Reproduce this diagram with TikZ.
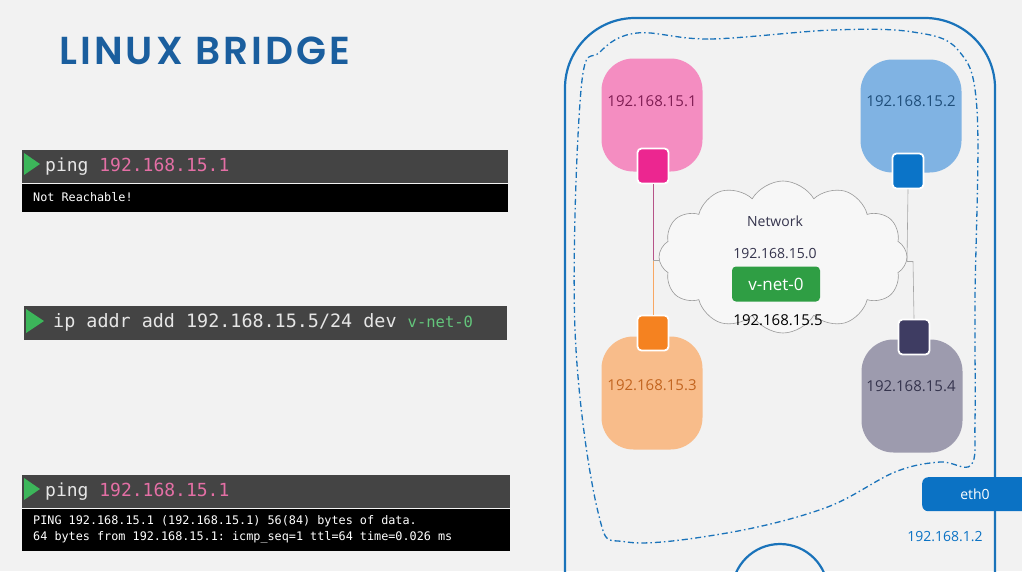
\documentclass[tikz,border=0pt]{standalone}
\usepackage{fontspec}
\setmainfont{Open Sans}
\setmonofont{DejaVu Sans Mono}
\newfontfamily\titlefont{Poppins SemiBold}[LetterSpace=8]
\usepackage{tikz}
\usetikzlibrary{positioning}
\usetikzlibrary{shapes.symbols}

\definecolor{bgcol}{HTML}{F2F2F2}
\definecolor{titleblue}{HTML}{1A5E9E}
\definecolor{termdark}{HTML}{444444}
\definecolor{termtext}{HTML}{E6E6E6}
\definecolor{termpink}{HTML}{E46FA5}
\definecolor{termgreen}{HTML}{3CB65A}
\definecolor{vnetgreen}{HTML}{2F9E44}
\definecolor{hostline}{HTML}{1A73BA}
\definecolor{pinkhost}{HTML}{F48DC1}
\definecolor{pinkport}{HTML}{EC2690}
\definecolor{pinklabel}{HTML}{7F1D53}
\definecolor{bluehost}{HTML}{80B3E3}
\definecolor{blueport}{HTML}{0B74C8}
\definecolor{bluelabel}{HTML}{1F4E7A}
\definecolor{orangehost}{HTML}{F8BC8A}
\definecolor{orangeport}{HTML}{F58220}
\definecolor{orangelabel}{HTML}{C2641F}
\definecolor{grayhost}{HTML}{9D9BAE}
\definecolor{grayport}{HTML}{3E3C62}
\definecolor{graylabel}{HTML}{35344D}
\definecolor{ethblue}{HTML}{0B72C4}

\begin{document}
\begin{tikzpicture}[x=1pt,y=-1pt,
                    hostbox/.style={rectangle, rounded corners=32pt, minimum width=101pt, minimum height=113pt, inner sep=0pt},
                    hostlabel/.style={font=\fontsize{15}{16}\selectfont, inner sep=0pt},
                    portbox/.style={rectangle, rounded corners=4pt, draw=white, line width=1.8pt, minimum width=31pt, minimum height=35pt, inner sep=0pt},
                    termbar/.style={rectangle, fill=termdark, minimum height=33pt, inner sep=0pt, anchor=north west},
                    termout/.style={rectangle, fill=black, inner sep=0pt, anchor=north west},
                    cmdtext/.style={font=\ttfamily\fontsize{18}{20}\selectfont, text=termtext, anchor=west, inner sep=0pt},
                    outtext/.style={font=\ttfamily\fontsize{11.8}{13}\selectfont, text=white, anchor=west, inner sep=0pt},
                    play/.style={fill=termgreen},
                    netlabel/.style={font=\fontsize{14}{15}\selectfont, inner sep=0pt},
                    joinline/.style={line width=0.6pt},
                   ]
                    %Background
                    \useasboundingbox (0,0) rectangle (1022,571);
                    \fill[bgcol] (0,0) rectangle (1022,571);

                    %Title
                    \node[anchor=west, text=titleblue, font=\titlefont\fontsize{39}{42}\selectfont, inner sep=0pt] (title) at (59,51) {LINUX BRIDGE};

                    %Terminals
                    \node[termbar, minimum width=486pt] (t1bar) at (22,150) {};
                    \node[termout, minimum width=486pt, minimum height=28pt] (t1out) at (t1bar.south west) {};
                    \fill[play] (24,153) -- (40,164) -- (24,175) -- cycle;
                    \node[cmdtext] (t1cmd) at (45,167) {ping \textcolor{termpink}{192.168.15.1}};
                    \node[outtext] (t1res) at (33,197) {Not Reachable!};

                    \node[termbar, minimum width=483pt, minimum height=34pt] (t2bar) at (24,306) {};
                    \fill[play] (26,309) -- (44,321) -- (26,333) -- cycle;
                    \node[cmdtext, font=\ttfamily\fontsize{18.4}{20}\selectfont] (t2cmd) at (53,322) {ip addr add 192.168.15.5/24 dev \textcolor{termgreen!80!white}{\fontsize{15.5}{16}\selectfont v-net-0}};

                    \node[termbar, minimum width=488pt] (t3bar) at (22,475) {};
                    \node[termout, minimum width=488pt, minimum height=42pt] (t3out) at (t3bar.south west) {};
                    \fill[play] (24,478) -- (40,489) -- (24,500) -- cycle;
                    \node[cmdtext] (t3cmd) at (45,492) {ping \textcolor{termpink}{192.168.15.1}};
                    \node[outtext] (t3res1) at (33,521) {PING 192.168.15.1 (192.168.15.1) 56(84) bytes of data.};
                    \node[outtext] (t3res2) at (33,537) {64 bytes from 192.168.15.1: icmp\_seq=1 ttl=64 time=0.026 ms};

                    %Host
                    \draw[hostline, line width=2.2pt, rounded corners=70pt] (565,18) rectangle (995,660);
                    \draw[hostline, line width=2.2pt] (780,592) circle (48);
                    \draw[hostline, line width=1.3pt, dash pattern=on 6pt off 3pt on 1.5pt off 3pt]
                        plot[smooth cycle, tension=0.6] coordinates {(637,33) (710,39) (833,30) (913,32) (958,50) (977,110) (975,300) (975,420) (971,465) (940,462) (895,472) (825,508) (727,533) (627,542) (598,512) (575,330) (581,90) (600,52)};

                    %Network
                    \node[cloud, cloud puffs=12, cloud puff arc=120, aspect=1.55, draw=gray!80, fill=bgcol!60!white, line width=0.6pt, minimum width=248pt, minimum height=152pt] (net) at (783,257) {};
                    \node[netlabel, text=graylabel] (netname) at (775,221) {Network};
                    \node[netlabel, text=graylabel] (netaddr) at (775,254) {192.168.15.0};
                    \node[rectangle, rounded corners=4pt, fill=vnetgreen, text=white, minimum width=88pt, minimum height=35pt, inner sep=0pt, font=\fontsize{17}{18}\selectfont] (vnet) at (776,284) {v-net-0};
                    \node[netlabel, font=\fontsize{15}{16}\selectfont, text=black] (vnetaddr) at (778,320) {192.168.15.5};

                    %Containers
                    \node[hostbox, fill=pinkhost]   (c1) at (652,115) {};
                    \node[hostbox, fill=bluehost]   (c2) at (911,116) {};
                    \node[hostbox, fill=orangehost] (c3) at (652,393) {};
                    \node[hostbox, fill=grayhost]   (c4) at (912,396) {};
                    \node[hostlabel, text=pinklabel]   (c1lbl) at (652,101) {192.168.15.1};
                    \node[hostlabel, text=bluelabel]   (c2lbl) at (911,101) {192.168.15.2};
                    \node[hostlabel, text=orangelabel] (c3lbl) at (652,385) {192.168.15.3};
                    \node[hostlabel, text=graylabel]   (c4lbl) at (911,386) {192.168.15.4};

                    \node[portbox, fill=pinkport]   (p1) at (653,166) {};
                    \node[portbox, fill=blueport]   (p2) at (908,171) {};
                    \node[portbox, fill=orangeport] (p3) at (653,333) {};
                    \node[portbox, fill=grayport]   (p4) at (914,337) {};

                    %Lines
                    \coordinate (j1) at (653,260);
                    \coordinate (j2) at (907,261);
                    \coordinate (j3) at (913,261);
                    \draw[joinline, draw=pinkport!50!gray] (p1.south) -- (j1);
                    \draw[joinline, draw=orangeport!70!white] (j1) -- (p3.north);
                    \draw[joinline, draw=gray!70] (j1) -- (j1 -| net.west);
                    \draw[joinline, draw=gray!70] (p2.south) -- (j2);
                    \draw[joinline, draw=gray!70] (j2) -- (j3);
                    \draw[joinline, draw=gray!70] (j3) -- (p4.north);

                    %eth0
                    \node[rectangle, rounded corners=6pt, fill=ethblue, anchor=north west, minimum width=115pt, minimum height=34pt, inner sep=0pt] (eth) at (922,477) {};
                    \node[netlabel, text=white] (ethlbl) at (975,494) {eth0};
                    \node[netlabel, text=ethblue] (ethaddr) at (945,537) {192.168.1.2};
                  \end{tikzpicture}
\end{document}
